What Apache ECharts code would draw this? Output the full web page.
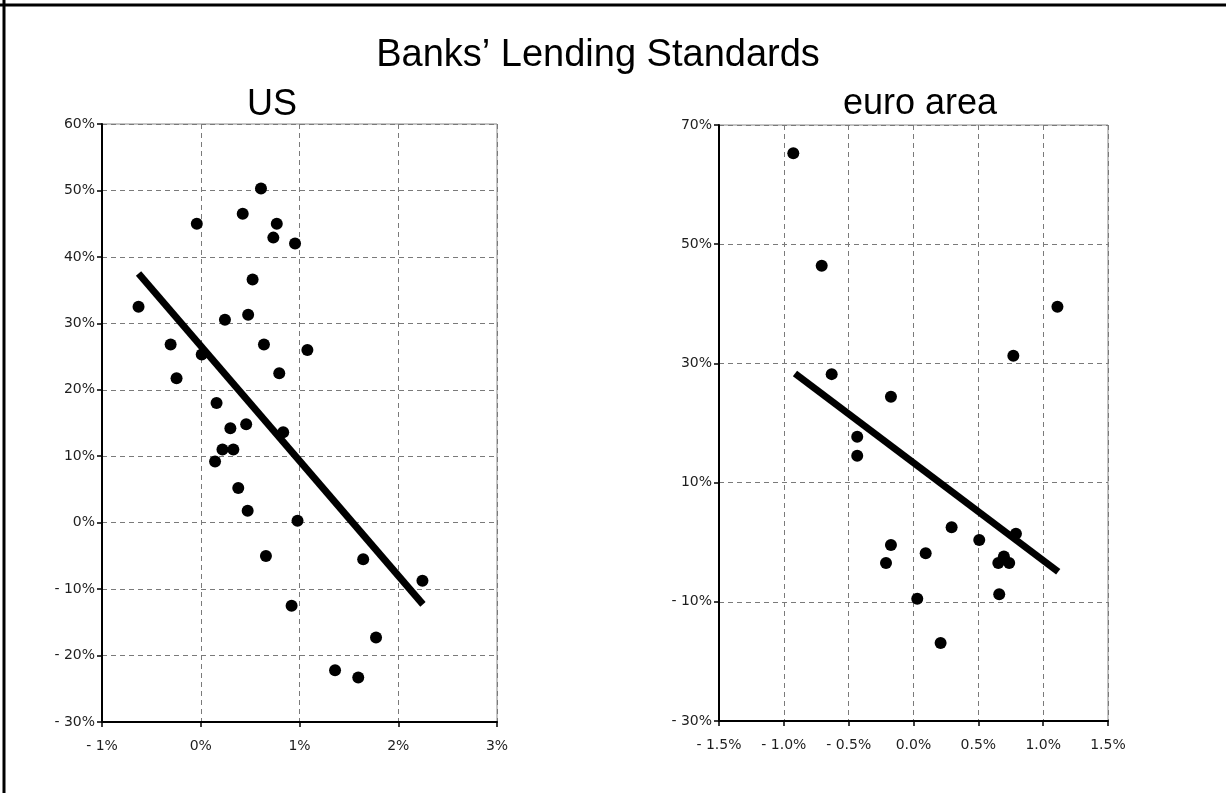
<!DOCTYPE html>
<html>
<head>
<meta charset="utf-8">
<title>Banks' Lending Standards</title>
<script src="https://cdn.jsdelivr.net/npm/echarts@6/dist/echarts.min.js"></script>
<style>
  html, body { margin: 0; padding: 0; background: #ffffff; }
  #chart { width: 1226px; height: 793px; }
</style>
</head>
<body>
<div id="chart"></div>
<script>
// US: output-gap change (x, %) vs. net tightening of lending standards (y, %)
const usX = [0.61, -0.04, 0.425, 0.77, 0.735, 0.955, 0.525, -0.63, 0.48, 0.245,
             -0.305, 0.64, 1.08, 0.01, -0.245, 0.795, 0.16, 0.30, 0.46, 0.835,
             0.22, 0.33, 0.145, 0.38, 0.475, 0.98, 0.66, 1.645, 2.245, 0.92,
             1.775, 1.36, 1.595];
const usY = [50.3, 45.0, 46.5, 45.0, 42.9, 42.0, 36.6, 32.5, 31.3, 30.55,
             26.8, 26.8, 26.0, 25.3, 21.75, 22.5, 18.0, 14.2, 14.8, 13.6,
             11.0, 11.0, 9.2, 5.2, 1.8, 0.3, -5.0, -5.5, -8.75, -12.5,
             -17.3, -22.2, -23.3];
// US linear trend: start and end points
const usTrendX = [-0.63, 2.25];
const usTrendY = [37.5, -12.3];

// Euro area
const euX = [-0.927, -0.708, 1.11, 0.77, -0.631, -0.174, -0.434, -0.434, 0.294, 0.507,
             0.79, -0.174, 0.094, -0.212, 0.654, 0.697, 0.738, 0.029, 0.661, 0.209];
const euY = [65.25, 46.4, 39.5, 31.3, 28.2, 24.4, 17.7, 14.5, 2.5, 0.37,
             1.4, -0.47, -1.87, -3.5, -3.5, -2.4, -3.5, -9.5, -8.75, -16.9];
const euTrendX = [-0.914, 1.116];
const euTrendY = [28.3, -4.95];

// Axis ranges: [min, max, interval]
const usXAxis = [-1, 3, 1];
const usYAxis = [-30, 60, 10];
const euXAxis = [-1.5, 1.5, 0.5];
const euYAxis = [-30, 70, 20];

const titles = ["Banks\u2019 Lending Standards", "US", "euro area"];

function pairs(xs, ys) { return xs.map((x, i) => [x, ys[i]]); }

function pctLabel(decimals) {
  return function (v) {
    const s = Math.abs(v).toFixed(decimals) + '%';
    return v < -1e-9 ? '- ' + s : s;
  };
}

const labelFont = { fontFamily: 'DejaVu Sans', fontSize: 14, color: '#1e1e1e' };

function valueAxis(gridIndex, range, decimals, isX) {
  return {
    type: 'value',
    gridIndex: gridIndex,
    min: range[0], max: range[1], interval: range[2],
    axisLine: { show: true, onZero: false, lineStyle: { color: '#000', width: 2 } },
    axisTick: { show: true, inside: false, length: 5, lineStyle: { color: '#000', width: 1.5 } },
    axisLabel: Object.assign({ formatter: pctLabel(decimals), margin: isX ? 17 : 7 }, labelFont),
    splitLine: { show: true, lineStyle: { color: '#7a7a7a', type: [5, 4], width: 1 } }
  };
}

const chart = echarts.init(document.getElementById('chart'), null, { renderer: 'canvas' });

chart.setOption({
  backgroundColor: '#ffffff',
  animation: false,
  title: [
    { text: titles[0], left: 598, top: 37, textAlign: 'center', padding: 0,
      textStyle: { fontFamily: 'Liberation Sans', fontSize: 38, fontWeight: 'normal', color: '#000' } },
    { text: titles[1], left: 272, top: 87, textAlign: 'center', padding: 0,
      textStyle: { fontFamily: 'Liberation Sans', fontSize: 36, fontWeight: 'normal', color: '#000' } },
    { text: titles[2], left: 920, top: 86, textAlign: 'center', padding: 0,
      textStyle: { fontFamily: 'Liberation Sans', fontSize: 36, fontWeight: 'normal', color: '#000' } }
  ],
  grid: [
    { left: 102, right: 1226 - 497, top: 124, bottom: 793 - 722,
      show: true, borderColor: '#8a8a8a', borderWidth: 1, backgroundColor: '#fff' },
    { left: 719, right: 1226 - 1108, top: 125, bottom: 793 - 721,
      show: true, borderColor: '#8a8a8a', borderWidth: 1, backgroundColor: '#fff' }
  ],
  xAxis: [
    valueAxis(0, usXAxis, 0, true),
    valueAxis(1, euXAxis, 1, true)
  ],
  yAxis: [
    valueAxis(0, usYAxis, 0, false),
    valueAxis(1, euYAxis, 0, false)
  ],
  series: [
    { type: 'line', xAxisIndex: 0, yAxisIndex: 0, data: pairs(usTrendX, usTrendY),
      showSymbol: false, lineStyle: { color: '#000', width: 7 }, z: 2 },
    { type: 'scatter', xAxisIndex: 0, yAxisIndex: 0, data: pairs(usX, usY),
      symbol: 'circle', symbolSize: 12, itemStyle: { color: '#000', opacity: 1 }, z: 3 },
    { type: 'line', xAxisIndex: 1, yAxisIndex: 1, data: pairs(euTrendX, euTrendY),
      showSymbol: false, lineStyle: { color: '#000', width: 7 }, z: 2 },
    { type: 'scatter', xAxisIndex: 1, yAxisIndex: 1, data: pairs(euX, euY),
      symbol: 'circle', symbolSize: 12, itemStyle: { color: '#000', opacity: 1 }, z: 3 }
  ],
  graphic: [
    // outer frame (top and left edges)
    { type: 'line', shape: { x1: 0, y1: 5, x2: 1226, y2: 5 }, style: { stroke: '#000', lineWidth: 3 } },
    { type: 'line', shape: { x1: 4, y1: 0, x2: 4, y2: 793 }, style: { stroke: '#000', lineWidth: 3 } }
  ]
});
</script>
</body>
</html>
